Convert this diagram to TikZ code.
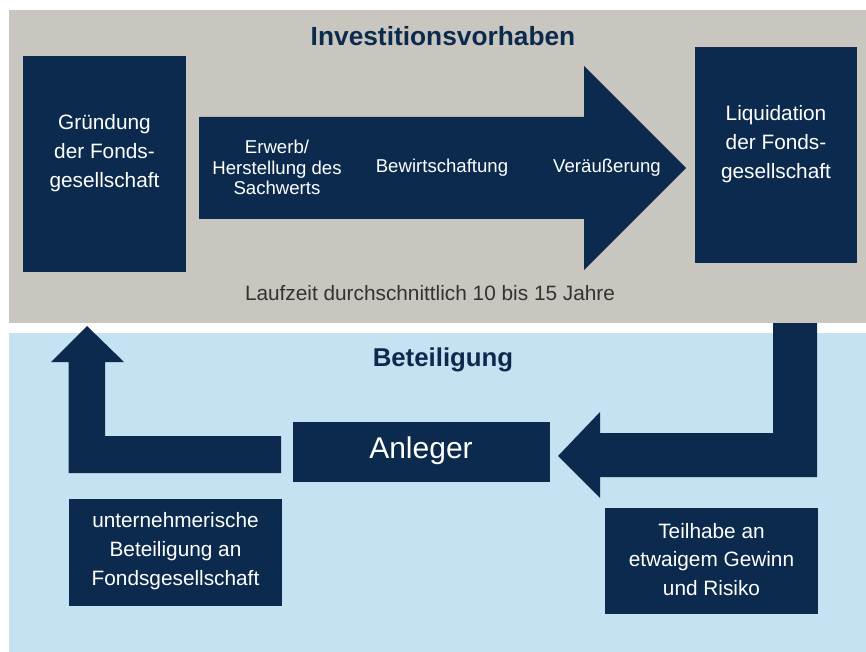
\documentclass[tikz,border=0pt]{standalone}
\usepackage{fontspec}
\setmainfont{Liberation Sans}
\definecolor{navy}{HTML}{0B2A4E}
\definecolor{panelgrey}{HTML}{C8C6BF}
\definecolor{panelblue}{HTML}{C5E2F2}
\definecolor{labelgrey}{HTML}{333333}
\tikzset{
  navybox/.style={fill=navy, draw=none, inner sep=0pt},
  boxtext/.style={text=white, align=center, inner sep=0pt, font=\fontsize{20.8}{29}\selectfont},
  arrowtext/.style={text=white, align=center, inner sep=0pt, font=\fontsize{18.6}{20.5}\selectfont},
  heading/.style={text=navy, inner sep=0pt, font=\fontsize{26.3}{30}\selectfont\bfseries},
  bigarrow/.style={fill=navy, draw=none}
}
\begin{document}
\begin{tikzpicture}[x=1pt,y=-1pt]
\useasboundingbox (0,0) rectangle (866,652);
\fill[white] (0,0) rectangle (866,652);
\fill[panelgrey] (9,10) rectangle (866,323);
\fill[panelblue] (9,333) rectangle (866,652);

% headings
\node[heading] (title) at (443,36) {Investitionsvorhaben};
\node[heading, font=\fontsize{25.8}{30}\selectfont\bfseries] (beteiligung) at (443,360) {Beteiligung};

% top boxes
\node[navybox, minimum width=163, minimum height=216] (gruendung) at (104.5,164) {};
\node[boxtext] (gruendungtext) at (104.5,153.5) {Gründung\\der Fonds-\\gesellschaft};
\node[navybox, minimum width=162, minimum height=216] (liquidation) at (776,155) {};
\node[boxtext] (liquidationtext) at (776,144) {Liquidation\\der Fonds-\\gesellschaft};

% big arrow
\fill[bigarrow] (199,117) -- (584,117) -- (584,66) -- (686,168) -- (584,270) -- (584,219) -- (199,219) -- cycle;
\node[arrowtext] (erwerb) at (277,167.5) {Erwerb/\\Herstellung des\\Sachwerts};
\node[arrowtext] (bewirtschaftung) at (442,168) {Bewirtschaftung};
\node[arrowtext] (veraeusserung) at (607,168) {Veräußerung};

\node[text=labelgrey, inner sep=0pt, font=\fontsize{20.8}{24}\selectfont] (laufzeit) at (430,293) {Laufzeit durchschnittlich 10 bis 15 Jahre};

% bottom
\node[navybox, minimum width=257, minimum height=60] (anleger) at (421.5,452) {};
\node[text=white, inner sep=0pt, font=\fontsize{30}{34}\selectfont] (anlegertext) at (421,451) {Anleger};

\fill[bigarrow] (281,436) -- (105,436) -- (105,362) -- (124,362) -- (87,326) -- (51,362) -- (68.5,362) -- (68.5,473) -- (281,473) -- cycle;
\fill[bigarrow] (773,323) -- (817,323) -- (817,477) -- (600,477) -- (600,498) -- (558,456) -- (600,412) -- (600,433) -- (773,433) -- cycle;

\node[navybox, minimum width=213, minimum height=107] (unternehm) at (175.5,552.5) {};
\node[boxtext] (unternehmtext) at (175.5,551) {unternehmerische\\Beteiligung an\\Fondsgesellschaft};
\node[navybox, minimum width=213, minimum height=106] (teilhabe) at (711.5,561) {};
\node[boxtext, font=\fontsize{20.8}{28.5}\selectfont] (teilhabetext) at (711.5,559.5) {Teilhabe an\\etwaigem Gewinn\\und Risiko};
\end{tikzpicture}
\end{document}
